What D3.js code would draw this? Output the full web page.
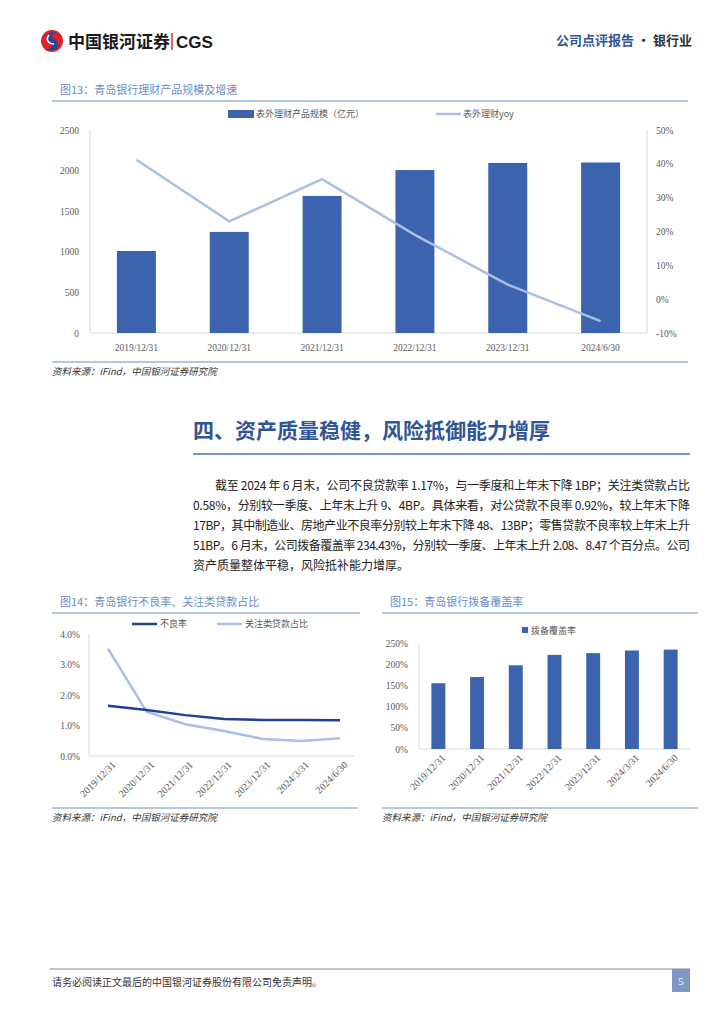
<!DOCTYPE html>
<html lang="zh">
<head>
<meta charset="UTF-8">
<title>青岛银行 公司点评报告</title>
<script src="https://d3js.org/d3.v7.min.js"></script>
<style>
  body { margin: 0; background: #fff; }
  svg { display: block; font-family: "Noto Sans CJK SC", "Noto Sans", sans-serif; }
  .tick text { fill: #595959; }
</style>
</head>
<body>
<svg width="724" height="1024"></svg>
<script>
// ---- data ----
const wmDates = ["2019/12/31", "2020/12/31", "2021/12/31", "2022/12/31", "2023/12/31", "2024/6/30"];
const wmScale = [1010, 1245, 1688, 2007, 2094, 2100];
const wmYoy = [41.2, 23.0, 35.5, 19.0, 4.3, -6.5];
const wmLeftTicks = [0, 500, 1000, 1500, 2000, 2500];
const wmRightTicks = [-10, 0, 10, 20, 30, 40, 50];

const qDates = ["2019/12/31", "2020/12/31", "2021/12/31", "2022/12/31", "2023/12/31", "2024/3/31", "2024/6/30"];
const nplRate = [1.65, 1.51, 1.34, 1.21, 1.18, 1.18, 1.17];
const watchRatio = [3.52, 1.45, 1.04, 0.82, 0.56, 0.49, 0.58];
const rateTicks = [0, 1, 2, 3, 4];
const coverage = [155.1, 169.7, 197.4, 222.0, 226.0, 232.4, 234.4];
const coverTicks = [0, 50, 100, 150, 200, 250];

const paragraph = [
  "截至 2024 年 6 月末，公司不良贷款率 1.17%，与一季度和上年末下降 1BP；关注类贷款占比",
  "0.58%，分别较一季度、上年末上升 9、4BP。具体来看，对公贷款不良率 0.92%，较上年末下降",
  "17BP，其中制造业、房地产业不良率分别较上年末下降 48、13BP；零售贷款不良率较上年末上升",
  "51BP。6 月末，公司拨备覆盖率 234.43%，分别较一季度、上年末上升 2.08、8.47 个百分点。公司",
  "资产质量整体平稳，风险抵补能力增厚。"
];

const svg = d3.select("svg");
const blueBar = "#3c64ae", lightLine = "#a9bfe6", darkLine = "#203f94";
const capBlue = "#6b8cc6", ruleBlue = "#9bb3dc", axisGrey = "#d9d9d9";

// ---- header ----
const logo = svg.append("g").attr("transform", "translate(52,41)");
logo.append("circle").attr("r", 11).attr("fill", "#e0202a");
logo.append("path")
  .attr("d", "M6,-9 C-4,-11 -9,-3 -3,1 C2,4 0,9 -7,8 C-2,12 8,9 6,2 C4,-3 -2,-3 0,-7 Z")
  .attr("fill", "#1e4a9c");
logo.append("path").attr("d", "M-3,-6 C-7,-1 -3,3 2,3").attr("stroke", "#fff").attr("stroke-width", 1.6).attr("fill", "none");
svg.append("text").attr("x", 68).attr("y", 48).attr("font-size", 17).attr("font-weight", 700)
  .attr("fill", "#1a1a1a").text("中国银河证券");
svg.append("line").attr("x1", 172).attr("x2", 172).attr("y1", 33).attr("y2", 50).attr("stroke", "#c00000").attr("stroke-width", 1.2);
svg.append("text").attr("x", 176).attr("y", 48).attr("font-size", 17).attr("font-weight", 700)
  .attr("font-family", "Liberation Sans, Arial, sans-serif").attr("fill", "#1a1a1a").text("CGS");
svg.append("text").attr("x", 556).attr("y", 45).attr("font-size", 13).attr("font-weight", 700)
  .call(t => {
    t.append("tspan").attr("fill", "#2f5597").text("公司点评报告");
    t.append("tspan").attr("fill", "#333").text(" · 银行业");
  });

// helpers
function caption(x, y, x2, txt) {
  svg.append("text").attr("x", x).attr("y", y).attr("font-size", 11).attr("fill", capBlue).text(txt);
  svg.append("line").attr("x1", x - 8).attr("x2", x2).attr("y1", y + 7).attr("y2", y + 7)
    .attr("stroke", ruleBlue).attr("stroke-width", 1.5);
}
function source(x, y, x2) {
  svg.append("line").attr("x1", x).attr("x2", x2).attr("y1", y - 10).attr("y2", y - 10)
    .attr("stroke", ruleBlue).attr("stroke-width", 1.5);
  svg.append("text").attr("x", x).attr("y", y + 3).attr("font-size", 9.5).attr("font-style", "italic")
    .attr("fill", "#333").text("资料来源：iFind，中国银河证券研究院");
}
function styleAxis(g, size) {
  g.select(".domain").remove();
  g.selectAll(".tick line").remove();
  g.selectAll(".tick text").attr("font-size", size || 9).attr("font-family", "Liberation Serif, serif");
}
function rotateLabels(g) {
  g.selectAll(".tick text").attr("text-anchor", "end").attr("dx", "0.3em").attr("dy", "0.5em")
    .attr("transform", "rotate(-45)");
}

// ---- Figure 13 ----
caption(60, 94, 688, "图13：青岛银行理财产品规模及增速");
const f13 = {l: 90, r: 647, t: 130, b: 333};
const x13 = d3.scaleBand().domain(wmDates).range([f13.l, f13.r]).paddingInner(0.58).paddingOuter(0.29);
const yL = d3.scaleLinear().domain([0, 2500]).range([f13.b, f13.t]);
const yR = d3.scaleLinear().domain([-10, 50]).range([f13.b, f13.t]);
svg.append("path").attr("d", `M${f13.l},${f13.t}V${f13.b}H${f13.r}V${f13.t}`)
  .attr("fill", "none").attr("stroke", axisGrey);
svg.append("g").attr("transform", `translate(${f13.l - 8},0)`)
  .call(d3.axisLeft(yL).tickValues(wmLeftTicks).tickSize(0).tickFormat(d3.format("d")))
  .call(g => styleAxis(g, 9.5));
svg.append("g").attr("transform", `translate(${f13.r + 6},0)`)
  .call(d3.axisRight(yR).tickValues(wmRightTicks).tickSize(0).tickFormat(d => d + "%"))
  .call(g => styleAxis(g, 9.5));
svg.append("g").attr("transform", `translate(0,${f13.b + 8})`)
  .call(d3.axisBottom(x13).tickSize(0)).call(g => styleAxis(g, 9.5));
svg.selectAll(".bar13").data(wmScale).join("rect")
  .attr("x", (d, i) => x13(wmDates[i])).attr("width", x13.bandwidth())
  .attr("y", d => yL(d)).attr("height", d => f13.b - yL(d)).attr("fill", blueBar);
svg.append("path").datum(wmYoy)
  .attr("d", d3.line().x((d, i) => x13(wmDates[i]) + x13.bandwidth() / 2).y(d => yR(d)))
  .attr("fill", "none").attr("stroke", lightLine).attr("stroke-width", 2.5);
svg.append("rect").attr("x", 228).attr("y", 110).attr("width", 26).attr("height", 8).attr("fill", blueBar);
svg.append("text").attr("x", 256).attr("y", 117).attr("font-size", 9).attr("fill", "#595959").text("表外理财产品规模（亿元）");
svg.append("line").attr("x1", 436).attr("x2", 461).attr("y1", 114).attr("y2", 114).attr("stroke", lightLine).attr("stroke-width", 2.5);
svg.append("text").attr("x", 463).attr("y", 117).attr("font-size", 9).attr("fill", "#595959").text("表外理财yoy");
source(52, 372, 688);

// ---- section title + paragraph ----
svg.append("text").attr("x", 193).attr("y", 438).attr("font-size", 21).attr("font-weight", 700)
  .attr("fill", "#2f5597").text("四、资产质量稳健，风险抵御能力增厚");
svg.append("line").attr("x1", 193).attr("x2", 690).attr("y1", 454).attr("y2", 454)
  .attr("stroke", "#4a6fb5").attr("stroke-width", 1.5);
paragraph.forEach((line, i) => {
  const x0 = i === 0 ? 215 : 193;
  const t = svg.append("text").attr("x", x0).attr("y", 490 + i * 20).attr("font-size", 12)
    .attr("fill", "#222").text(line);
  if (i < paragraph.length - 1) t.attr("textLength", 690 - x0).attr("lengthAdjust", "spacing");
});

// ---- Figure 14 ----
caption(60, 606, 360, "图14：青岛银行不良率、关注类贷款占比");
const f14 = {l: 89, r: 358, t: 634, b: 756};
const x14 = d3.scalePoint().domain(qDates).range([108, 340]);
const y14 = d3.scaleLinear().domain([0, 4]).range([f14.b, f14.t]);
svg.append("path").attr("d", `M${f14.l},${f14.t}V${f14.b}H${f14.r - 3}`).attr("fill", "none").attr("stroke", axisGrey);
svg.append("g").attr("transform", `translate(${f14.l - 6},0)`)
  .call(d3.axisLeft(y14).tickValues(rateTicks).tickSize(0).tickFormat(d => d.toFixed(1) + "%"))
  .call(g => styleAxis(g, 9.5));
svg.append("g").attr("transform", `translate(0,${f14.b + 6})`)
  .call(d3.axisBottom(x14).tickSize(0)).call(g => styleAxis(g, 10)).call(rotateLabels);
const line14 = d3.line().x((d, i) => x14(qDates[i])).y(d => y14(d));
svg.append("path").datum(watchRatio).attr("d", line14).attr("fill", "none").attr("stroke", lightLine).attr("stroke-width", 2.5);
svg.append("path").datum(nplRate).attr("d", line14).attr("fill", "none").attr("stroke", darkLine).attr("stroke-width", 2.5);
svg.append("line").attr("x1", 132).attr("x2", 157).attr("y1", 624).attr("y2", 624).attr("stroke", darkLine).attr("stroke-width", 2.5);
svg.append("text").attr("x", 160).attr("y", 627).attr("font-size", 9).attr("fill", "#595959").text("不良率");
svg.append("line").attr("x1", 217).attr("x2", 242).attr("y1", 624).attr("y2", 624).attr("stroke", lightLine).attr("stroke-width", 2.5);
svg.append("text").attr("x", 245).attr("y", 627).attr("font-size", 9).attr("fill", "#595959").text("关注类贷款占比");
source(52, 818, 358);

// ---- Figure 15 ----
caption(390, 606, 698, "图15：青岛银行拨备覆盖率");
const f15 = {l: 419, r: 690, t: 643, b: 749};
const x15 = d3.scaleBand().domain(qDates).range([f15.l, f15.r]).paddingInner(0.64).paddingOuter(0.32);
const y15 = d3.scaleLinear().domain([0, 250]).range([f15.b, f15.t]);
svg.append("path").attr("d", `M${f15.l},${f15.t}V${f15.b}H${f15.r}`).attr("fill", "none").attr("stroke", axisGrey);
svg.append("g").attr("transform", `translate(${f15.l - 8},0)`)
  .call(d3.axisLeft(y15).tickValues(coverTicks).tickSize(0).tickFormat(d => d + "%"))
  .call(g => styleAxis(g, 9.5));
svg.append("g").attr("transform", `translate(0,${f15.b + 6})`)
  .call(d3.axisBottom(x15).tickSize(0)).call(g => styleAxis(g, 10)).call(rotateLabels);
svg.selectAll(".bar15").data(coverage).join("rect")
  .attr("x", (d, i) => x15(qDates[i])).attr("width", x15.bandwidth())
  .attr("y", d => y15(d)).attr("height", d => f15.b - y15(d)).attr("fill", blueBar);
svg.append("rect").attr("x", 522).attr("y", 627).attr("width", 6).attr("height", 6).attr("fill", blueBar);
svg.append("text").attr("x", 531).attr("y", 634).attr("font-size", 9).attr("fill", "#595959").text("拨备覆盖率");
source(382, 818, 698);

// ---- footer ----
svg.append("line").attr("x1", 50).attr("x2", 690).attr("y1", 969).attr("y2", 969).attr("stroke", "#888").attr("stroke-width", 1);
svg.append("text").attr("x", 52).attr("y", 986).attr("font-size", 10).attr("fill", "#333")
  .text("请务必阅读正文最后的中国银河证券股份有限公司免责声明。");
svg.append("rect").attr("x", 672).attr("y", 969).attr("width", 18).attr("height", 23).attr("fill", "#7f96c6");
svg.append("text").attr("x", 681).attr("y", 985).attr("text-anchor", "middle").attr("font-size", 11)
  .attr("font-family", "Liberation Serif, serif").attr("fill", "#fff").text("5");
</script>
</body>
</html>
